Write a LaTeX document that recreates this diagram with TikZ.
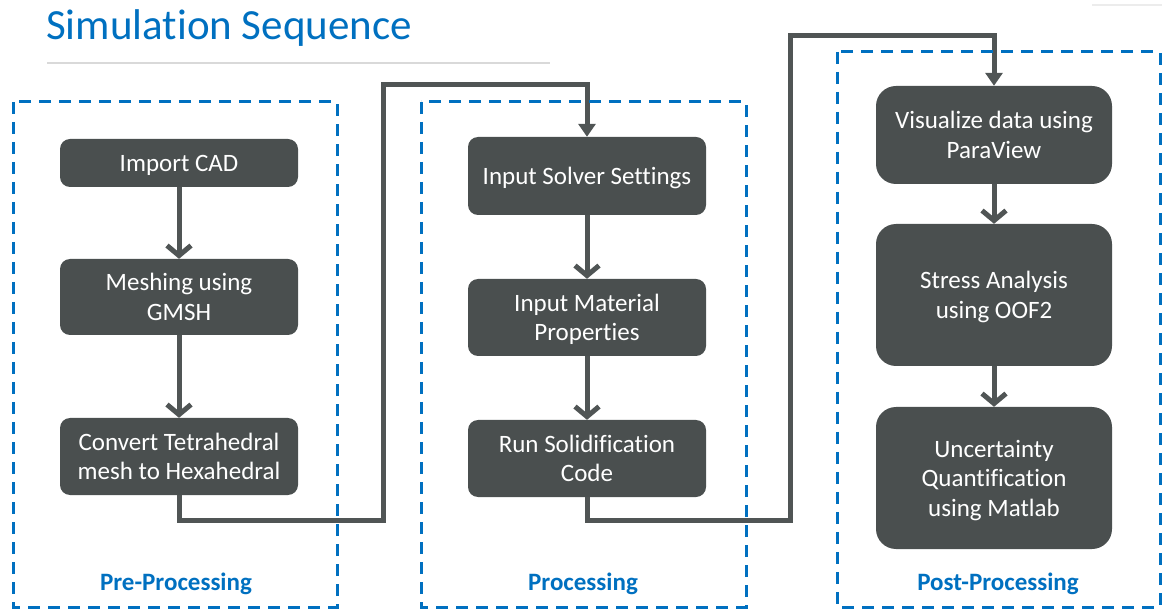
\documentclass[tikz,border=0pt]{standalone}
\usepackage{fontspec}
\setmainfont{Carlito}[Ligatures={NoCommon}]
\usetikzlibrary{arrows.meta}

\definecolor{boxgray}{RGB}{74,79,79}
\definecolor{linegray}{RGB}{80,85,85}
\definecolor{titleblue}{RGB}{0,112,192}
\definecolor{rulegray}{RGB}{217,217,217}

\begin{document}
\begin{tikzpicture}[x=1pt,y=-1pt,
    stepbox/.style={fill=boxgray, rounded corners=10pt, text=white, align=center,
        minimum width=238pt, text depth=0pt, font=\fontsize{25}{29.5}\selectfont},
    bigbox/.style={stepbox, rounded corners=20pt, minimum width=236pt},
    flow/.style={draw=linegray, line width=5pt, -{Straight Barb[length=10pt,width=24pt]}},
    link/.style={draw=linegray, line width=5pt, -{Triangle[length=13pt,width=17pt]}},
    stage/.style={draw=titleblue, line width=3pt, dash pattern=on 12pt off 8pt},
    stagelabel/.style={text=titleblue, font=\fontsize{25}{30}\selectfont\bfseries, anchor=base}]
    \useasboundingbox (0,0) rectangle (1162,609);

    % Title
    \node[anchor=base west, inner sep=0pt, text=titleblue, font=\fontsize{43}{52}\selectfont] (title) at (46,40) {Simulation Sequence};
    \draw[rulegray, line width=1.5pt] (47,63) -- (550,63);
    \draw[rulegray!50, line width=2pt] (1092,5) -- (1162,5);

    % Pre-processing
    \node[stepbox, minimum height=48pt] (cad) at (179,163) {Import CAD};
    \node[stepbox, minimum height=76pt] (mesh) at (179,297) {Meshing using\\GMSH};
    \node[stepbox, minimum height=77pt] (conv) at (179,456.5) {Convert Tetrahedral\\mesh to Hexahedral};
    \draw[flow] (cad) -- (mesh);
    \draw[flow] (mesh) -- (conv);

    % Processing
    \node[stepbox, minimum height=78pt] (solver) at (587,176) {Input Solver Settings};
    \node[stepbox, minimum height=77pt] (mat) at (587,317.5) {Input Material\\Properties};
    \node[stepbox, minimum height=77pt] (run) at (587,458.5) {Run Solidification\\Code};
    \draw[flow] (solver) -- (mat);
    \draw[flow] (mat) -- (run);

    % Post-processing
    \node[bigbox, minimum height=98pt] (vis) at (994,135) {Visualize data using\\ParaView};
    \node[bigbox, minimum height=142pt] (stress) at (994,295) {Stress Analysis\\using OOF2};
    \node[bigbox, minimum height=142pt] (uq) at (994,478) {Uncertainty\\Quantification\\using Matlab};
    \draw[flow] (vis) -- (stress);
    \draw[flow] (stress) -- (uq);

    % links between stages
    \coordinate (turnA) at (383,520);
    \coordinate (topA) at (587,85);
    \draw[link] (conv.south) |- (turnA) |- (topA) -- (solver.north);
    \coordinate (turnB) at (790,520);
    \coordinate (topB) at (994,36);
    \draw[link] (run.south) |- (turnB) |- (topB) -- (vis.north);

    % Stage frames
    \draw[stage] (13,102) rectangle (337,607);
    \draw[stage] (421,102) rectangle (746,607);
    \draw[stage] (837,52) rectangle (1160,607);
    \node[stagelabel] (prelabel) at (176,590) {Pre-Processing};
    \node[stagelabel] (proclabel) at (583,590) {Processing};
    \node[stagelabel] (postlabel) at (998,590) {Post-Processing};
\end{tikzpicture}
\end{document}
